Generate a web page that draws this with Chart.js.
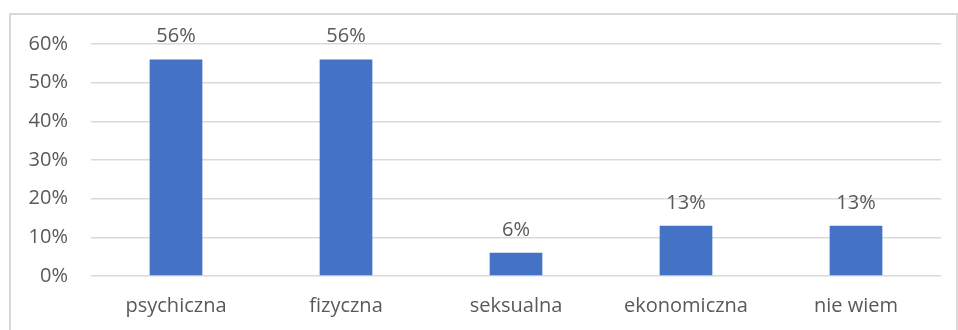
<!DOCTYPE html>
<html>
<head>
<meta charset="utf-8">
<script src="https://cdn.jsdelivr.net/npm/chart.js@4.4.0/dist/chart.umd.min.js"></script>
<style>
  html, body { margin: 0; padding: 0; background: #fff; }
  #wrap { position: relative; width: 958px; height: 330px; overflow: hidden; }
  #frame { position: absolute; left: 9px; top: 13px; right: 0; bottom: -10px; border: 2px solid #d9d9d9; }
  #chart { position: absolute; left: 0; top: 0; }
</style>
</head>
<body>
<div id="wrap">
  <div id="frame"></div>
  <canvas id="chart" width="958" height="330"></canvas>
</div>
<script>
const categories = ['psychiczna', 'fizyczna', 'seksualna', 'ekonomiczna', 'nie wiem'];
const shares = [56, 56, 6, 13, 13];
const yTicks = [0, 10, 20, 30, 40, 50, 60];

const textColor = '#595959';
const fontFace = '"Open Sans", "Noto Sans", sans-serif';

// value labels above each bar
const barLabels = {
  id: 'barLabels',
  afterDatasetsDraw(chart) {
    const ctx = chart.ctx;
    const meta = chart.getDatasetMeta(0);
    ctx.save();
    ctx.fillStyle = textColor;
    ctx.font = '20px ' + fontFace;
    ctx.textAlign = 'center';
    ctx.textBaseline = 'alphabetic';
    meta.data.forEach((bar, i) => {
      ctx.fillText(shares[i] + '%', bar.x, bar.y - 17);
    });
    ctx.restore();
  }
};

new Chart(document.getElementById('chart'), {
  type: 'bar',
  data: {
    labels: categories,
    datasets: [{
      data: shares,
      backgroundColor: '#4472c4',
      barPercentage: 0.31,
      categoryPercentage: 1
    }]
  },
  options: {
    responsive: false,
    animation: false,
    layout: { padding: { top: 44, right: 17, left: 0, bottom: 0 } },
    plugins: { legend: { display: false }, tooltip: { enabled: false } },
    scales: {
      y: {
        min: 0,
        max: 60,
        afterBuildTicks(axis) { axis.ticks = yTicks.map(v => ({ value: v })); },
        afterFit(axis) { axis.width = 91; },
        border: { display: false },
        grid: { color: '#d9d9d9', lineWidth: 1.5, drawTicks: false },
        ticks: {
          padding: 23,
          color: textColor,
          font: { family: fontFace, size: 20 },
          callback: v => v + '%'
        }
      },
      x: {
        afterFit(axis) { axis.height = 54; },
        border: { display: false },
        grid: { display: false, drawTicks: false },
        ticks: {
          padding: 18,
          color: textColor,
          font: { family: fontFace, size: 20 }
        }
      }
    }
  },
  plugins: [barLabels]
});
</script>
</body>
</html>
